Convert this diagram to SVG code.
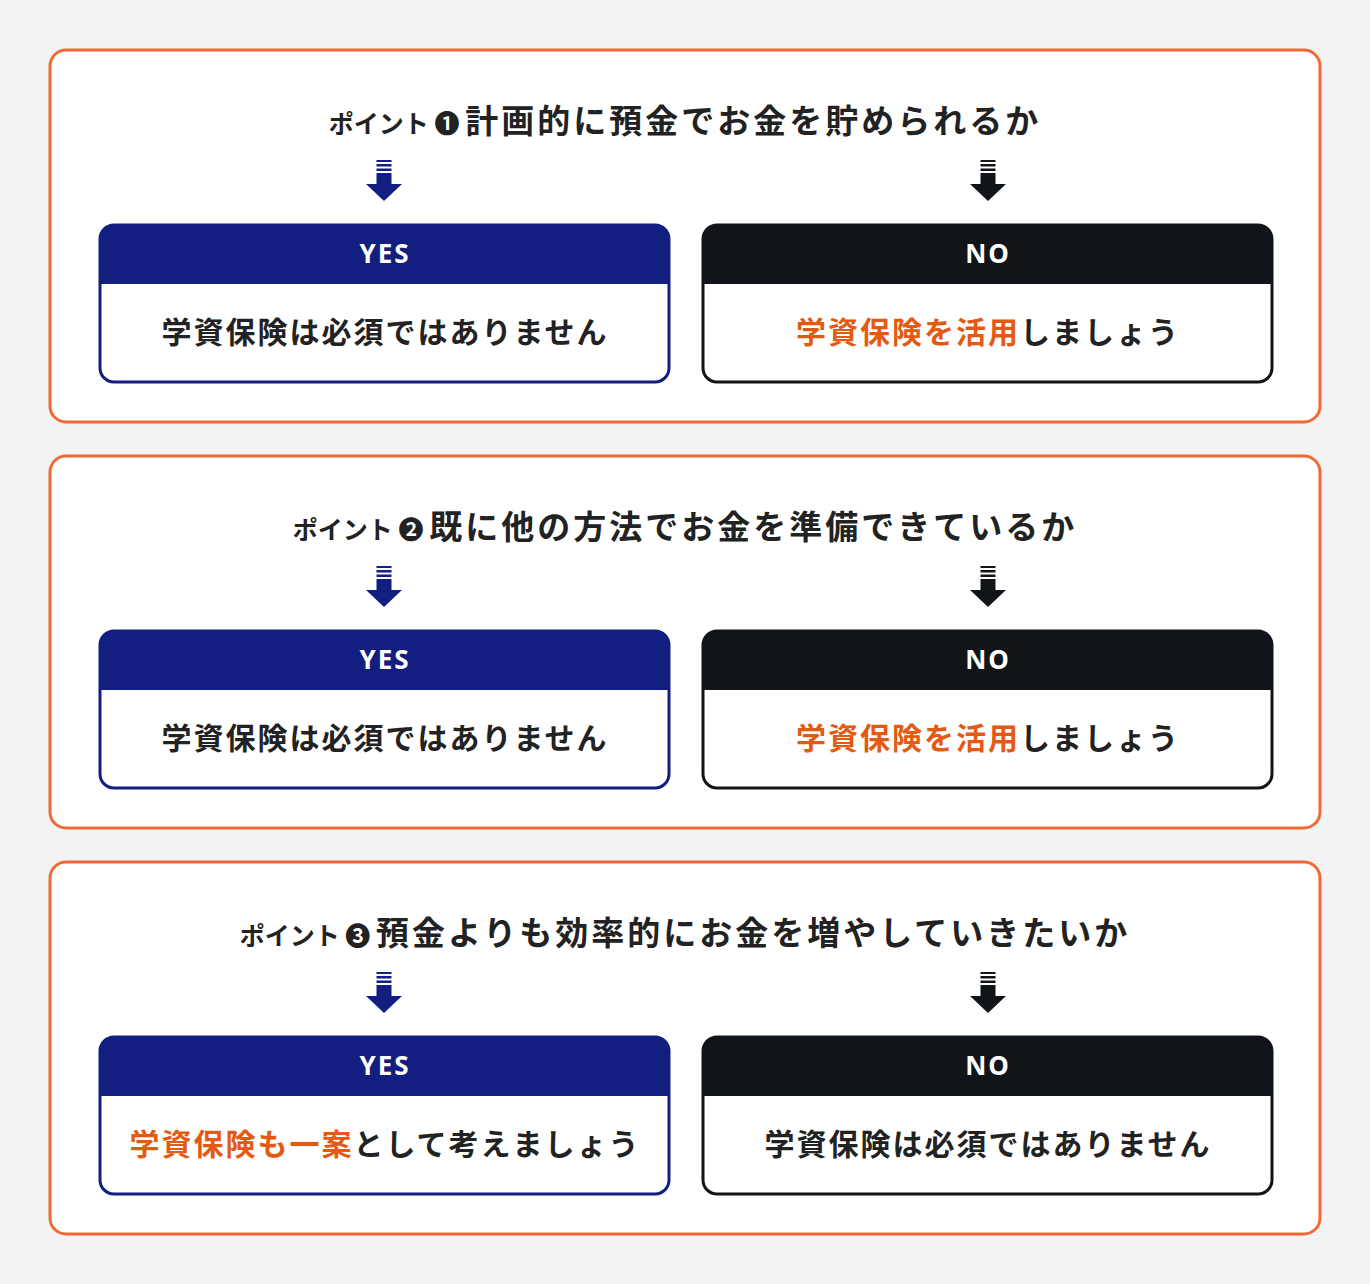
<svg xmlns="http://www.w3.org/2000/svg" xmlns:xlink="http://www.w3.org/1999/xlink" width="1370" height="1284" viewBox="0 0 1370 1284">
<style>
text{font-family:"Noto Sans CJK JP","Noto Sans",sans-serif;font-weight:700;fill:#222}
.card{fill:#fff;stroke:#ef6a35;stroke-width:3}
.t{font-size:33px;letter-spacing:3px}
.s{font-size:25px}
.h{font-size:26px;fill:#fff;font-family:"Noto Sans","Noto Sans CJK JP",sans-serif;letter-spacing:2px}
.b{font-size:30px;letter-spacing:2px}
.o{fill:#e55a12}
.yes{fill:#fff;stroke:#121f80;stroke-width:3}
.no{fill:#fff;stroke:#111519;stroke-width:3}
</style>
<defs>
<g id="arr"><rect x="-7.5" y="0" width="15" height="2"/><rect x="-7.5" y="4" width="15" height="2.5"/><rect x="-7.5" y="8.5" width="15" height="2.5"/><rect x="-7.5" y="13" width="15" height="12"/><path d="M-18 24H18L0 41Z"/></g>
<g id="pair">
<rect class="yes" x="100" y="175" width="569" height="157" rx="14"/>
<path d="M100 234V189a14 14 0 0 1 14-14H655a14 14 0 0 1 14 14V234Z" fill="#121f80"/>
<rect class="no" x="703" y="175" width="569" height="157" rx="14"/>
<path d="M703 234V189a14 14 0 0 1 14-14H1258a14 14 0 0 1 14 14V234Z" fill="#111519"/>
<text class="h" x="385" y="213" text-anchor="middle">YES</text>
<text class="h" x="988" y="213" text-anchor="middle">NO</text>
<use xlink:href="#arr" x="384" y="110" fill="#121f80"/>
<use xlink:href="#arr" x="988" y="110" fill="#111519"/>
</g>
</defs>
<rect width="1370" height="1284" fill="#f3f3f3"/>
<g id="sec1">
<rect class="card" x="50" y="50" width="1270" height="372" rx="16"/>
<text x="685" y="133" text-anchor="middle"><tspan class="s">ポイント ❶ </tspan><tspan class="t">計画的に預金でお金を貯められるか</tspan></text>
<use xlink:href="#pair" y="50"/>
<text class="b" x="385" y="343" text-anchor="middle">学資保険は必須ではありません</text>
<text class="b" x="988" y="343" text-anchor="middle"><tspan class="o">学資保険を活用</tspan>しましょう</text>
</g>
<g id="sec2">
<rect class="card" x="50" y="456" width="1270" height="372" rx="16"/>
<text x="685" y="539" text-anchor="middle"><tspan class="s">ポイント ❷ </tspan><tspan class="t">既に他の方法でお金を準備できているか</tspan></text>
<use xlink:href="#pair" y="456"/>
<text class="b" x="385" y="749" text-anchor="middle">学資保険は必須ではありません</text>
<text class="b" x="988" y="749" text-anchor="middle"><tspan class="o">学資保険を活用</tspan>しましょう</text>
</g>
<g id="sec3">
<rect class="card" x="50" y="862" width="1270" height="372" rx="16"/>
<text x="685" y="945" text-anchor="middle"><tspan class="s">ポイント ❸ </tspan><tspan class="t">預金よりも効率的にお金を増やしていきたいか</tspan></text>
<use xlink:href="#pair" y="862"/>
<text class="b" x="385" y="1155" text-anchor="middle"><tspan class="o">学資保険も一案</tspan>として考えましょう</text>
<text class="b" x="988" y="1155" text-anchor="middle">学資保険は必須ではありません</text>
</g>
<g id="connectors"/>
</svg>
